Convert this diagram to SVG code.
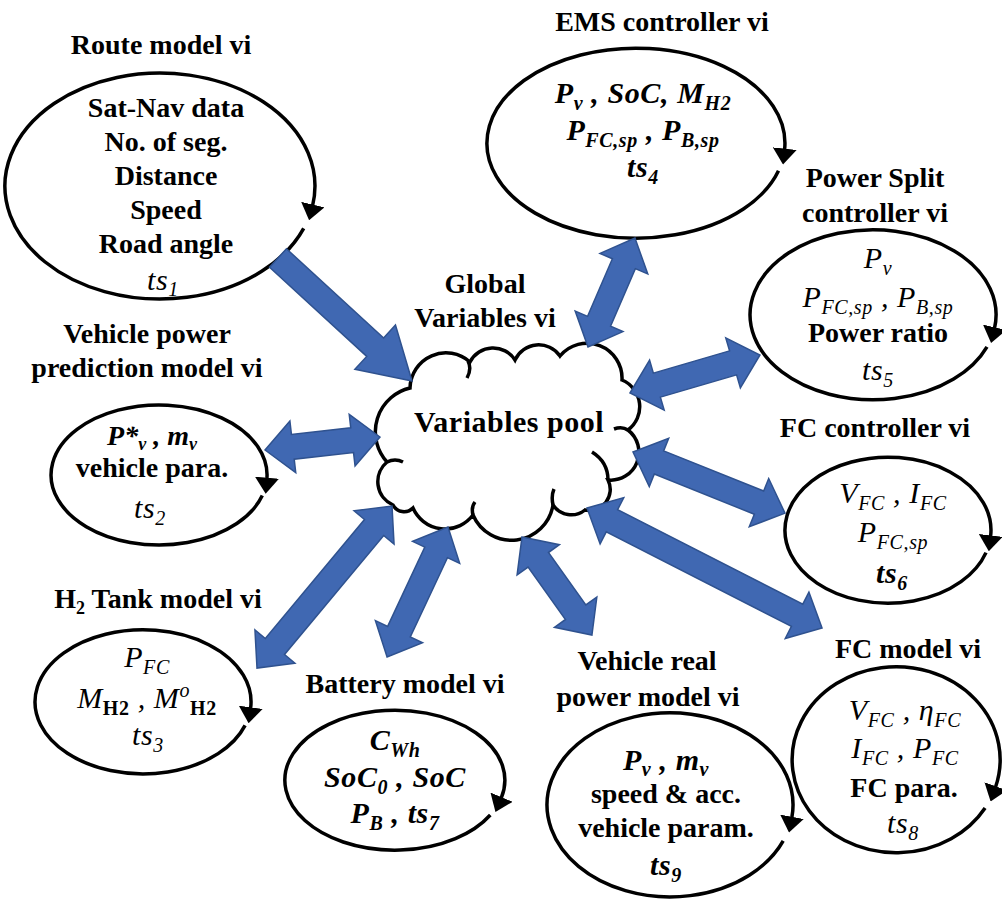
<svg xmlns="http://www.w3.org/2000/svg" width="1002" height="900" viewBox="0 0 1002 900" font-family="Liberation Serif, serif">
<defs>
<marker id="ah" markerUnits="userSpaceOnUse" markerWidth="16" markerHeight="24" viewBox="0 0 16 24" refX="1" refY="12" orient="auto"><path d="M0,0 L16,12 L0,24 Z" fill="#000"/></marker>
<style>
.t{font-size:28px;font-weight:bold;text-anchor:middle;fill:#000}
.i{font-style:italic;font-size:30px;letter-spacing:0.6px}
.n{font-weight:normal}
.s{font-size:20px}
.u{font-style:normal;font-weight:bold}
.loop{fill:none;stroke:#000;stroke-width:3.5;marker-end:url(#ah)}
.blk{fill:#4068b2;stroke:#2f528f;stroke-width:1.5}
.cloud{fill:#fff;stroke:#000;stroke-width:3.5}
.hook{fill:none;stroke:#000;stroke-width:3.5}
</style>
</defs>
<rect width="1002" height="900" fill="#fff"/>

<g id="route">
<text class="t" x="161" y="54">Route model vi</text>
<path class="loop" d="M303.7,228.3 A155,113 0 1 1 312.6,205.6"/>
<text class="t" x="166" y="117">Sat-Nav data</text>
<text class="t" x="166" y="151">No. of seg.</text>
<text class="t" x="166" y="185">Distance</text>
<text class="t" x="166" y="219">Speed</text>
<text class="t" x="166" y="253">Road angle</text>
<text class="t i n" x="163" y="290">ts<tspan class="s" dy="6">1</tspan></text>
</g>

<g id="ems">
<text class="t" x="662" y="31">EMS controller vi</text>
<path class="loop" d="M778.5,170.8 A149,95 0 1 1 784.6,149.6"/>
<text class="t i" x="643" y="103">P<tspan class="s" dy="7">v</tspan><tspan dy="-7"> , SoC, M</tspan><tspan class="s" dy="7">H2</tspan></text>
<text class="t i" x="643" y="140">P<tspan class="s" dy="7">FC,sp</tspan><tspan dy="-7">  , P</tspan><tspan class="s" dy="7">B,sp</tspan></text>
<text class="t i" x="643" y="177">ts<tspan class="s" dy="7">4</tspan></text>
</g>

<g id="powersplit">
<text class="t" x="875" y="187">Power Split</text>
<text class="t" x="875" y="222">controller vi</text>
<path class="loop" d="M987,346.8 A123,85 0 1 1 994.5,328.3"/>
<text class="t i n" x="878" y="268">P<tspan class="s" dy="7">v</tspan></text>
<text class="t i n" x="878" y="307">P<tspan class="s" dy="7">FC,sp</tspan><tspan dy="-7"> , P</tspan><tspan class="s" dy="7">B,sp</tspan></text>
<text class="t" x="878" y="342">Power ratio</text>
<text class="t i n" x="878" y="380">ts<tspan class="s" dy="7">5</tspan></text>
</g>

<g id="vehpred">
<text class="t" x="147" y="343">Vehicle power</text>
<text class="t" x="147" y="377">prediction model vi</text>
<path class="loop" d="M262.3,495.5 A108,70 0 1 1 266.9,478.7"/>
<text class="t i" x="152" y="445" style="font-size:28px;letter-spacing:0">P*<tspan style="font-size:18px" dy="5">v</tspan><tspan dy="-5"> , m</tspan><tspan style="font-size:18px" dy="5">v</tspan></text>
<text class="t" x="152" y="477">vehicle para.</text>
<text class="t i n" x="150" y="518">ts<tspan class="s" dy="7">2</tspan></text>
</g>

<g id="h2tank">
<text class="t" x="158" y="608">H<tspan style="font-size:18px" dy="6">2</tspan><tspan dy="-6"> Tank model vi</tspan></text>
<path class="loop" d="M245.1,725.4 A108,72 0 1 1 250.6,708.3"/>
<text class="t i n" x="147" y="667">P<tspan class="s" dy="7">FC</tspan></text>
<text class="t i n" x="147" y="708">M<tspan class="s u" dy="7">H2</tspan><tspan dy="-7"> , M</tspan><tspan class="s" dy="-11">o</tspan><tspan class="s u" dy="18">H2</tspan></text>
<text class="t i n" x="148" y="745">ts<tspan class="s" dy="7">3</tspan></text>
</g>

<g id="battery">
<text class="t" x="405" y="693">Battery model vi</text>
<path class="loop" d="M490.3,815 A110,70 0 1 1 501.2,798.1"/>
<text class="t i" x="395" y="750">C<tspan class="s" dy="7">Wh</tspan></text>
<text class="t i" x="395" y="787">SoC<tspan class="s" dy="7">0</tspan><tspan dy="-7"> , SoC</tspan></text>
<text class="t i" x="395" y="823">P<tspan class="s" dy="7">B</tspan><tspan dy="-7"> , ts</tspan><tspan class="s" dy="7">7</tspan></text>
</g>

<g id="vehreal">
<text class="t" x="647" y="670">Vehicle real</text>
<text class="t" x="648" y="706">power model vi</text>
<path class="loop" d="M783.2,840.9 A123,92 0 1 1 791.8,817.8"/>
<text class="t i" x="666" y="770">P<tspan class="s" dy="6">v</tspan><tspan dy="-6"> , m</tspan><tspan class="s" dy="6">v</tspan></text>
<text class="t" x="666" y="803">speed &amp; acc.</text>
<text class="t" x="666" y="837">vehicle param.</text>
<text class="t i" x="666" y="875">ts<tspan class="s" dy="7">9</tspan></text>
</g>

<g id="fcmodel">
<text class="t" x="908" y="658">FC model vi</text>
<path class="loop" d="M985.1,807.9 A104,93 0 1 1 995.5,787.2"/>
<text class="t i n" x="905" y="720">V<tspan class="s" dy="7">FC</tspan><tspan dy="-7"> , η</tspan><tspan class="s" dy="7">FC</tspan></text>
<text class="t i n" x="905" y="758">I<tspan class="s" dy="7">FC</tspan><tspan dy="-7"> , P</tspan><tspan class="s" dy="7">FC</tspan></text>
<text class="t" x="904" y="797">FC para.</text>
<text class="t i n" x="903" y="833">ts<tspan class="s" dy="7">8</tspan></text>
</g>

<g id="fcctrl">
<text class="t" x="875" y="437">FC controller vi</text>
<path class="loop" d="M986,552.6 A103,73 0 1 1 990.6,536.4"/>
<text class="t i n" x="893" y="503">V<tspan class="s" dy="7">FC</tspan><tspan dy="-7"> , I</tspan><tspan class="s" dy="7">FC</tspan></text>
<text class="t i n" x="893" y="542">P<tspan class="s" dy="7">FC,sp</tspan></text>
<text class="t i" x="892" y="583">ts<tspan class="s" dy="7">6</tspan></text>
</g>

<g id="pool">
<text class="t" x="485" y="293">Global</text>
<text class="t" x="485" y="327">Variables vi</text>
<path class="cloud" d="M410,388 A36,36 0 0 1 470,362 A26,26 0 0 1 515,360 A26,26 0 0 1 560,356 A35,35 0 0 1 622,380 A29,29 0 0 1 628,430 A28,28 0 0 1 608,480 A21,21 0 0 1 585,510 A22,22 0 0 1 553,505 A42,42 0 0 1 473,515 A35,35 0 0 1 413,508 A12.5,12.5 0 0 1 393,505 A25.6,25.6 0 0 1 387,462 A45,45 0 0 1 410,388 Z"/>
<path class="hook" d="M468,361 q4,8 -1,17 M628,430 q-6,-4 -14,-1 M608,480 q0,-18 -16,-28 M553,505 q-2,-9 1,-16 M473,515 q-2,-8 2,-13 M387,462 q8,-4 16,0"/>
<text class="t" x="509" y="432" style="font-size:30px;letter-spacing:0.5px">Variables pool</text>
</g>

<g id="connectors">
<polygon class="blk" transform="translate(278,258) rotate(42.55)" points="0,-12.5 131.9,-12.5 131.9,-30 181.9,0 131.9,30 131.9,12.5 0,12.5"/>
<polygon class="blk" transform="translate(588,347) rotate(-66.7)" points="0,0 28,-26 28,-12.5 90.7,-12.5 90.7,-26 118.7,0 90.7,26 90.7,12.5 28,12.5 28,26"/>
<polygon class="blk" transform="translate(630,393) rotate(-16.3)" points="0,0 28,-26 28,-12.5 107.4,-12.5 107.4,-26 135.4,0 107.4,26 107.4,12.5 28,12.5 28,26"/>
<polygon class="blk" transform="translate(265,450) rotate(-6.45)" points="0,0 28,-26 28,-12.5 87.7,-12.5 87.7,-26 115.7,0 87.7,26 87.7,12.5 28,12.5 28,26"/>
<polygon class="blk" transform="translate(633,452) rotate(21.9)" points="0,0 28,-26 28,-12.5 135.8,-12.5 135.8,-26 163.8,0 135.8,26 135.8,12.5 28,12.5 28,26"/>
<polygon class="blk" transform="translate(587,508) rotate(27.05)" points="0,0 28,-26 28,-12.5 235.9,-12.5 235.9,-26 263.9,0 235.9,26 235.9,12.5 28,12.5 28,26"/>
<polygon class="blk" transform="translate(392,506) rotate(129.8)" points="0,0 28,-26 28,-12.5 182.9,-12.5 182.9,-26 210.9,0 182.9,26 182.9,12.5 28,12.5 28,26"/>
<polygon class="blk" transform="translate(448,527) rotate(115.1)" points="0,0 28,-26 28,-12.5 115.6,-12.5 115.6,-26 143.6,0 115.6,26 115.6,12.5 28,12.5 28,26"/>
<polygon class="blk" transform="translate(522,537) rotate(54.5)" points="0,0 28,-26 28,-12.5 92.4,-12.5 92.4,-26 120.4,0 92.4,26 92.4,12.5 28,12.5 28,26"/>
</g>
</svg>
